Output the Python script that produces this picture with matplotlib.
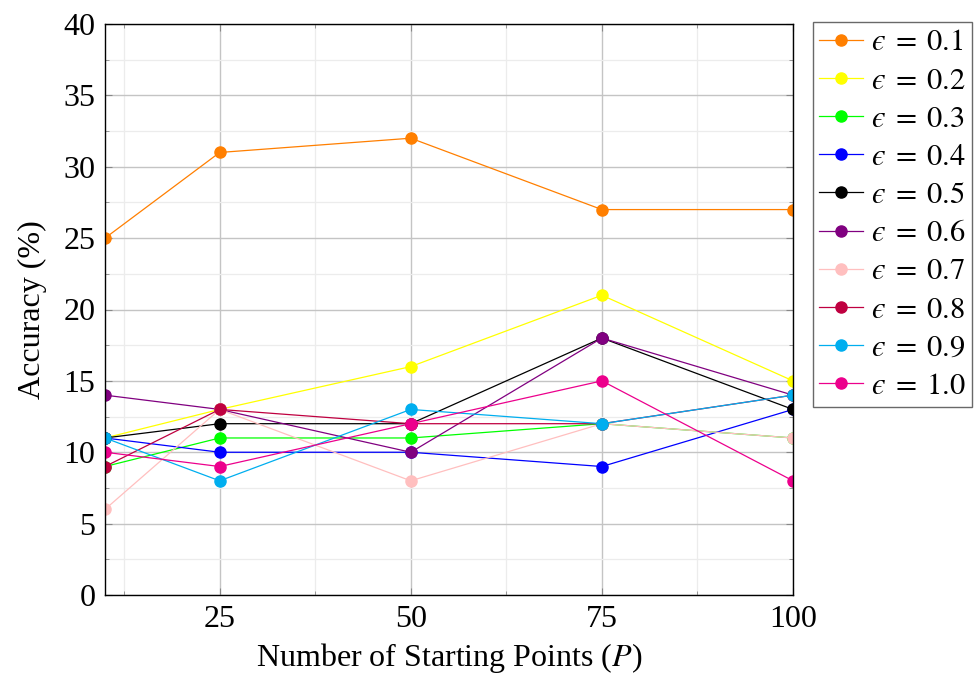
import matplotlib
matplotlib.use("Agg")
import matplotlib.pyplot as plt
from matplotlib.ticker import MultipleLocator, FixedLocator

plt.rcParams['font.family'] = ['Liberation Serif', 'DejaVu Serif']
plt.rcParams['mathtext.fontset'] = 'stix'

P = [10, 25, 50, 75, 100]
eps_labels = ['0.1', '0.2', '0.3', '0.4', '0.5', '0.6', '0.7', '0.8', '0.9', '1.0']
acc_01 = [25, 31, 32, 27, 27]
acc_02 = [11, 13, 16, 21, 15]
acc_03 = [9, 11, 11, 12, 11]
acc_04 = [11, 10, 10, 9, 13]
acc_05 = [11, 12, 12, 18, 13]
acc_06 = [14, 13, 10, 18, 14]
acc_07 = [6, 13, 8, 12, 11]
acc_08 = [9, 13, 12, 12, 14]
acc_09 = [11, 8, 13, 12, 14]
acc_10 = [10, 9, 12, 15, 8]
series = [acc_01, acc_02, acc_03, acc_04, acc_05, acc_06, acc_07, acc_08, acc_09, acc_10]
colors = ['#ff7f00', '#ffff00', '#00ff00', '#0000ff', '#000000',
          '#800080', '#ffbfbf', '#bf0040', '#00aeef', '#ec008c']

fig = plt.figure(figsize=(9.79, 6.77), dpi=100)
ax = fig.add_axes([105/979, 1-595/677, (793-105)/979, (595-24)/677])

for vals, lab, c in zip(series, eps_labels, colors):
    ax.plot(P, vals, color=c, lw=0.9, marker='o', markersize=8,
            label='$\u03f5\\;=\\;' + lab + '$')

ax.set_xlim(10, 100)
ax.set_ylim(0, 40)
ax.xaxis.set_major_locator(FixedLocator([25, 50, 75, 100]))
ax.xaxis.set_minor_locator(FixedLocator([12.5, 37.5, 62.5, 87.5]))
ax.yaxis.set_major_locator(MultipleLocator(5))
ax.yaxis.set_minor_locator(MultipleLocator(2.5))
ax.grid(which='major', color='#c4c4c4', lw=1.0)
ax.grid(which='minor', color='#ececec', lw=0.9)
ax.set_axisbelow(True)
ax.tick_params(which='both', direction='in', labelsize=23, top=True, right=True)
ax.tick_params(which='major', length=5, color='#888888', pad=7)
ax.tick_params(which='minor', length=3, color='#888888')
for s in ax.spines.values():
    s.set_linewidth(1.0)

ax.set_xlabel('Number of Starting Points ($P$)', fontsize=23, labelpad=5)
ax.set_ylabel('Accuracy (%)', fontsize=23, labelpad=12)

leg = ax.legend(loc='upper left', bbox_to_anchor=(1.029, 1.003), fontsize=22,
                frameon=True, fancybox=False, edgecolor='#444444',
                handlelength=1.45, handletextpad=0.25, labelspacing=0.3,
                borderpad=0.2, borderaxespad=0)
leg.get_frame().set_linewidth(1.0)

fig.savefig('out.png', dpi=100)
